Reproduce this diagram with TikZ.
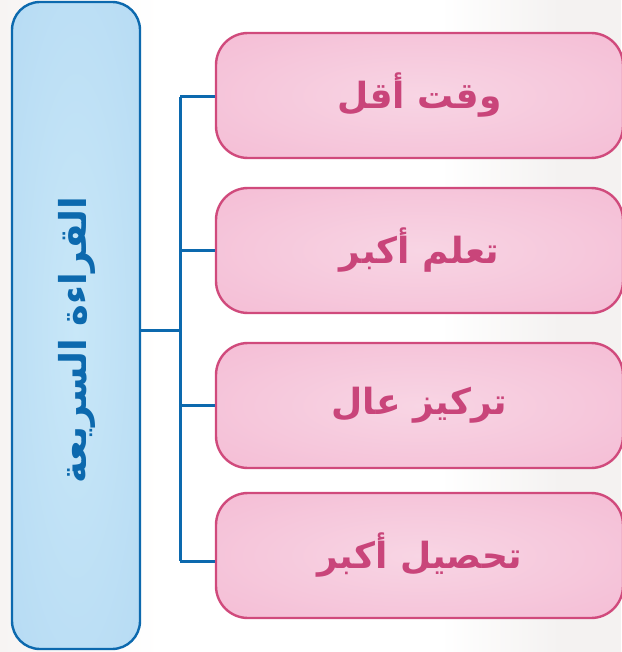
\documentclass[tikz,border=0pt]{standalone}
\usepackage{fontspec}
\newfontfamily\arabicfont[Script=Arabic]{DejaVu Sans}
\TeXXeTstate=1
\usetikzlibrary{calc}

\definecolor{pageleft}{HTML}{F7F4F3}
\definecolor{pageright}{HTML}{F4F2F1}
\definecolor{skyline}{HTML}{0C69AE}
\definecolor{skyin}{HTML}{C8E7F8}
\definecolor{skyout}{HTML}{B2D8F2}
\definecolor{roseline}{HTML}{D04A7C}
\definecolor{rosein}{HTML}{F8D5E4}
\definecolor{roseout}{HTML}{F3B5D0}
\definecolor{rosetext}{HTML}{C9457A}

% gentle elliptic glow for the boxes
\pgfdeclareradialshading{skyglow}{\pgfpoint{0bp}{0bp}}{%
  color(0bp)=(skyin); color(45bp)=(skyout); color(75bp)=(skyout)}
\pgfdeclareradialshading{roseglow}{\pgfpoint{0bp}{0bp}}{%
  color(0bp)=(rosein); color(48bp)=(roseout); color(75bp)=(roseout)}

\tikzset{
  titlebox/.style={draw=skyline, line width=2.4pt, rounded corners=28pt,
    shading=skyglow, minimum width=128pt, minimum height=647pt, inner sep=0pt},
  titletext/.style={text=skyline, rotate=90, font=\arabicfont\bfseries\fontsize{37}{44}\selectfont},
  itembox/.style={draw=roseline, line width=2.4pt, rounded corners=32pt,
    shading=roseglow, minimum width=407pt, minimum height=125pt, inner sep=0pt,
    text=rosetext, font=\arabicfont\bfseries\fontsize{36}{43}\selectfont},
  conn/.style={draw=skyline, line width=3pt}
}

\begin{document}
\begin{tikzpicture}[x=1pt,y=-1pt]
  \useasboundingbox (0,0) rectangle (621,652);
  % page tone: white centre fading to a warm grey at both sides
  \fill[white] (0,0) rectangle (621,652);
  \shade[left color=pageleft, right color=white] (0,0) rectangle (160,652);
  \shade[left color=white, right color=pageright] (440,0) rectangle (560,652);
  \fill[pageright] (560,0) rectangle (621,652);

  % topic column
  \node[titlebox] (topic) at (76,325.5) {};
  \node[titletext] (topictext) at (77,340) {\beginR القراءة السريعة\endR};

  % the four outcomes
  \node[itembox] (b1) at (419.5,95.5)  {\beginR وقت أقل\endR};
  \node[itembox] (b2) at (419.5,250.5) {\beginR تعلم أكبر\endR};
  \node[itembox] (b3) at (419.5,405.5) {\beginR تركيز عال\endR};
  \node[itembox] (b4) at (419.5,555.5) {\beginR تحصيل أكبر\endR};

  % tree connector
  \coordinate (j0) at (180,330);
  \coordinate (j1) at (180,97);
  \coordinate (j2) at (180,250.5);
  \coordinate (j3) at (180,405.5);
  \coordinate (j4) at (180,561);
  \draw[conn] (topic.east |- j0) -- (j0);
  \draw[conn] (j1) -- (j4);
  \draw[conn] (j1) -- (j1 -| b1.west);
  \draw[conn] (j2) -- (j2 -| b2.west);
  \draw[conn] (j3) -- (j3 -| b3.west);
  \draw[conn] (j4) -- (j4 -| b4.west);
\end{tikzpicture}
\end{document}
